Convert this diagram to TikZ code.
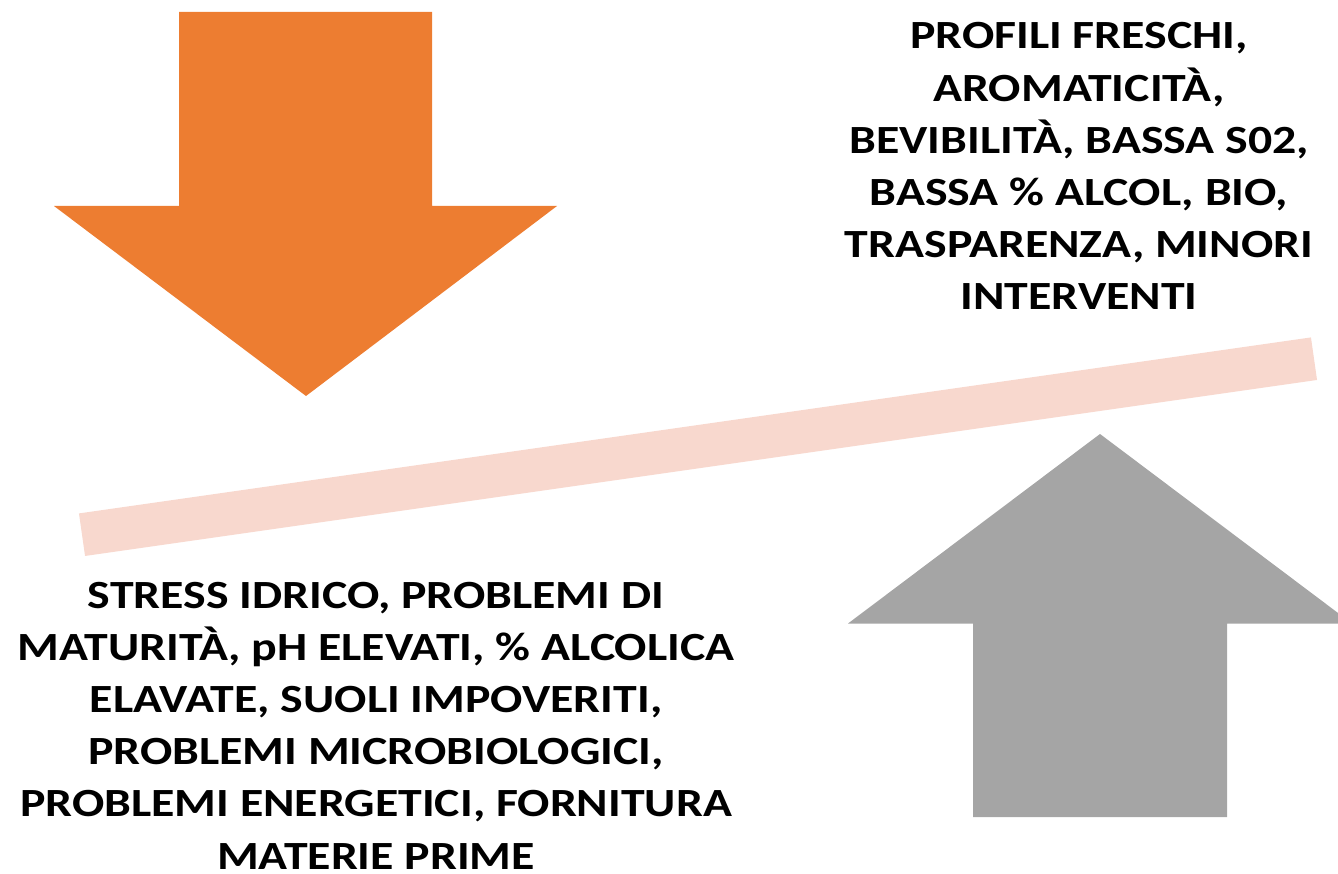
\documentclass[tikz,border=0pt]{standalone}
\usepackage{fontspec}
\setmainfont{Carlito}[FakeStretch=1.195]
\usepackage{color}
\definecolor{arroworange}{HTML}{ED7D31}
\definecolor{arrowgray}{HTML}{A5A5A5}
\definecolor{beampink}{HTML}{F8D8CE}

\begin{document}
\begin{tikzpicture}[x=1pt,y=-1pt,
	bigtext/.style={align=center,inner sep=0pt,anchor=base,text depth=0pt,
		font=\fontsize{40}{52.2}\selectfont\bfseries}]
	\useasboundingbox (0,0) rectangle (1338,874);
	% down arrow
	\fill[arroworange] (179,12) -- (432,12) -- (432,206) -- (557,206)
	-- (306,396) -- (54,206) -- (179,206) -- cycle;
	% beam
	\coordinate (beamleft) at (82,534.7);
	\coordinate (beamright) at (1314,358.7);
	\draw[beampink,line width=43pt] (beamleft) -- (beamright);
	% up arrow
	\begin{scope}
	\clip (0,0) rectangle (1338,874);
	\fill[arrowgray] (973,817) -- (1227,817) -- (1227,623.5) -- (1352,623.5)
	-- (1100,434) -- (848,623.5) -- (973,623.5) -- cycle;
	\end{scope}
	% texts (base = last line)
	\node[bigtext] (trends) at (1079,310) {PROFILI FRESCHI,\\AROMATICITÀ,\\BEVIBILITÀ, BASSA S02,\\BASSA \% ALCOL, BIO,\\TRASPARENZA, MINORI\\INTERVENTI};
	\node[bigtext] (problems) at (376,869) {STRESS IDRICO, PROBLEMI DI\\MATURITÀ, pH ELEVATI, \% ALCOLICA\\ELAVATE, SUOLI IMPOVERITI,\\PROBLEMI MICROBIOLOGICI,\\PROBLEMI ENERGETICI, FORNITURA\\MATERIE PRIME};
\end{tikzpicture}
\end{document}
